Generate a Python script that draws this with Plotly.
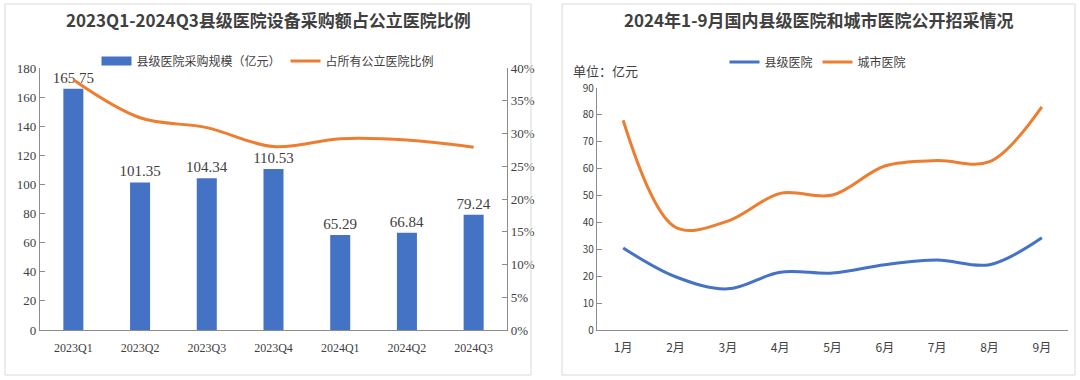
import plotly.graph_objects as go

# Left chart data
quarters = ["2023Q1", "2023Q2", "2023Q3", "2023Q4", "2024Q1", "2024Q2", "2024Q3"]
county_spend = [165.75, 101.35, 104.34, 110.53, 65.29, 66.84, 79.24]
share_pct = [0.382, 0.324, 0.309, 0.280, 0.292, 0.290, 0.279]

# Right chart data
months = ["1月", "2月", "3月", "4月", "5月", "6月", "7月", "8月", "9月"]
county_monthly = [30.5, 19.8, 15.3, 21.5, 21.2, 24.3, 26.0, 24.3, 34.3]
city_monthly = [78.0, 38.2, 40.5, 50.8, 50.2, 61.0, 63.0, 62.6, 83.0]

W, H = 1080, 380
BLUE = "#4472C4"
ORANGE = "#ED7D31"
TXT = "#404040"
SERIF = "Liberation Serif, Times New Roman, serif"
SANS = "Noto Sans CJK SC, sans-serif"


def px(x):
    return x / W


def py(y):
    return 1 - y / H


fig = go.Figure()

fig.add_trace(go.Bar(
    x=quarters, y=county_spend, name="县级医院采购规模（亿元）",
    marker_color=BLUE, width=0.3, showlegend=False,
    text=[f"{v:.2f}" for v in county_spend], textposition="outside",
    constraintext="none",
    textfont=dict(family=SERIF, size=15, color=TXT), cliponaxis=False,
    xaxis="x", yaxis="y",
))
# legend entry for the bars (wide rectangle key)
fig.add_trace(go.Scatter(
    x=[None], y=[None], name="县级医院采购规模（亿元）", mode="lines",
    line=dict(color=BLUE, width=9), xaxis="x", yaxis="y", legend="legend",
))
fig.add_trace(go.Scatter(
    x=quarters, y=share_pct, name="占所有公立医院比例", mode="lines",
    line=dict(color=ORANGE, width=3, shape="spline", smoothing=1.0),
    xaxis="x", yaxis="y2", legend="legend",
))

fig.add_trace(go.Scatter(
    x=months, y=county_monthly, name="县级医院", mode="lines",
    line=dict(color=BLUE, width=3, shape="spline", smoothing=1.0),
    xaxis="x2", yaxis="y3", legend="legend2",
))
fig.add_trace(go.Scatter(
    x=months, y=city_monthly, name="城市医院", mode="lines",
    line=dict(color=ORANGE, width=3, shape="spline", smoothing=1.0),
    xaxis="x2", yaxis="y3", legend="legend2",
))

axis_common = dict(showgrid=False, zeroline=False, linecolor="#8c8c8c", linewidth=1.2,
                   automargin=False)

fig.update_layout(
    template="none",
    width=W, height=H,
    margin=dict(l=0, r=0, t=0, b=0, pad=0),
    paper_bgcolor="white", plot_bgcolor="white",
    bargap=0.7,
    xaxis=dict(domain=[px(40), px(507)], anchor="y", showline=True, ticks="",
               range=[-0.5, 6.5], ticklabelstandoff=6,
               tickfont=dict(family=SERIF, size=12, color=TXT), **axis_common),
    yaxis=dict(domain=[py(330), py(68)], anchor="x", range=[0, 180], dtick=20, showline=True,
               ticks="inside", ticklen=5, tickcolor="#8c8c8c",
               tickfont=dict(family=SERIF, size=13, color=TXT), **axis_common),
    yaxis2=dict(domain=[py(330), py(68)], anchor="x", overlaying="y", side="right", range=[0, 0.40],
                dtick=0.05, tickformat=".0%", showline=True, ticks="inside", ticklen=5,
                tickcolor="#8c8c8c",
                tickfont=dict(family=SERIF, size=13, color=TXT), **axis_common),
    xaxis2=dict(domain=[px(597), px(1068)], anchor="y3", showline=True, ticks="",
                range=[-0.5, 8.5], ticklabelstandoff=6,
                tickfont=dict(family=SANS, size=12, color=TXT), **axis_common),
    yaxis3=dict(domain=[py(330), py(88)], anchor="x2", range=[0, 90], dtick=10, showline=True,
                ticks="inside", ticklen=5, tickcolor="#8c8c8c",
                tickfont=dict(family=SANS, size=10, color=TXT), **axis_common),
    legend=dict(orientation="h", x=px(268), xanchor="center", y=py(61), yanchor="middle",
                font=dict(family=SANS, size=12, color=TXT), bgcolor="rgba(0,0,0,0)",
                itemwidth=30, traceorder="normal"),
    legend2=dict(orientation="h", x=px(818), xanchor="center", y=py(62), yanchor="middle",
                 font=dict(family=SANS, size=12, color=TXT), bgcolor="rgba(0,0,0,0)",
                 itemwidth=30),
    showlegend=True,
)

fig.add_annotation(text="<b>2023Q1-2024Q3县级医院设备采购额占公立医院比例</b>", x=px(268), y=py(20),
                   xref="paper", yref="paper", showarrow=False, xanchor="center", yanchor="middle",
                   font=dict(family=SANS, size=17, color=TXT))
fig.add_annotation(text="<b>2024年1-9月国内县级医院和城市医院公开招采情况</b>", x=px(818), y=py(20),
                   xref="paper", yref="paper", showarrow=False, xanchor="center", yanchor="middle",
                   font=dict(family=SANS, size=17, color=TXT))
fig.add_annotation(text="单位：亿元", x=px(571), y=py(70), xref="paper", yref="paper",
                   xanchor="left", yanchor="middle", showarrow=False,
                   font=dict(family=SANS, size=13, color=TXT))

# panel borders
fig.add_shape(type="rect", xref="paper", yref="paper", x0=px(5), x1=px(531), y0=py(375), y1=py(4),
              line=dict(color="#d9d9d9", width=1))
fig.add_shape(type="rect", xref="paper", yref="paper", x0=px(562), x1=px(1075), y0=py(375), y1=py(4),
              line=dict(color="#d9d9d9", width=1))

fig.write_html("out.html", config={"displayModeBar": False},
               post_script="document.body.style.margin='0';")
